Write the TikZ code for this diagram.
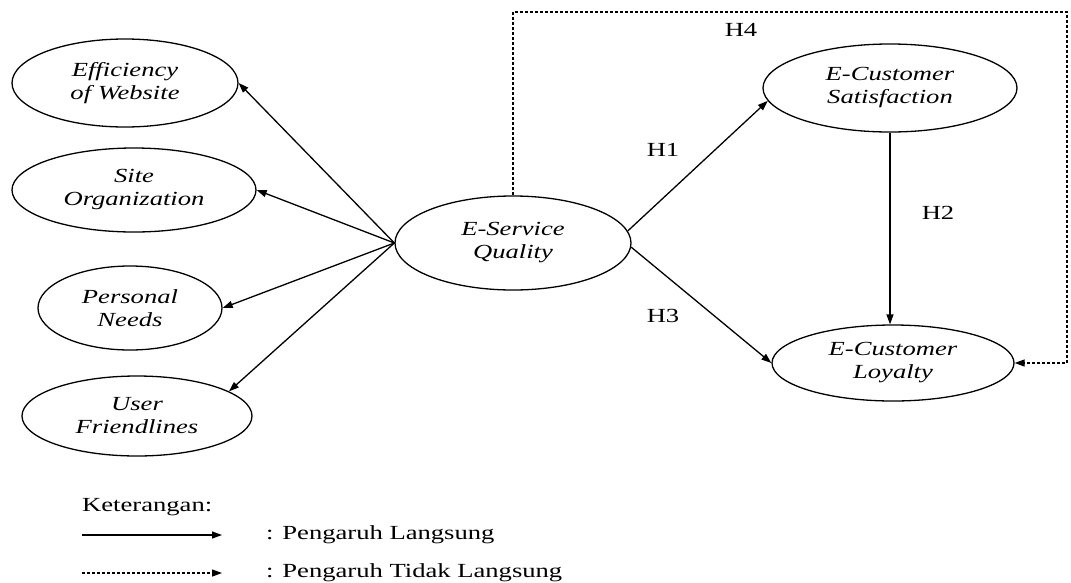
\documentclass[tikz,border=0pt]{standalone}
\usepackage{fontspec}
\setmainfont[FakeStretch=1.33]{Liberation Serif}
\usetikzlibrary{shapes.geometric,arrows.meta}
\begin{document}
\begin{tikzpicture}[x=1pt,y=-1pt,
  every node/.style={font=\fontsize{20}{23}\selectfont},
  latent/.style={draw,ellipse,line width=1.3pt,inner sep=0pt,align=center,font=\fontsize{20}{23}\selectfont\itshape},
  direct/.style={line width=1.3pt,-{Triangle[length=10pt,width=7pt]}},
  indirect/.style={line width=1.3pt,dash pattern=on 3pt off 2pt,-{Triangle[length=10pt,width=7pt]}},
  hlabel/.style={inner sep=0pt}]
\useasboundingbox (0,0) rectangle (1071,582);
\node[latent,minimum width=226pt,minimum height=88pt] (eff) at (125,83) {Efficiency\\of Website};
\node[latent,minimum width=244pt,minimum height=84pt] (site) at (134,190) {Site\\Organization};
\node[latent,minimum width=184pt,minimum height=84pt] (pers) at (130,308) {Personal\\Needs};
\node[latent,minimum width=230pt,minimum height=80pt] (user) at (137,416) {User\\Friendlines};
\node[latent,minimum width=236pt,minimum height=94pt] (esq) at (513,243) {E-Service\\Quality};
\node[latent,minimum width=254pt,minimum height=88pt] (sat) at (890,88) {E-Customer\\Satisfaction};
\node[latent,minimum width=242pt,minimum height=76pt] (loy) at (893,363) {E-Customer\\Loyalty};

\draw[direct] (esq.west) -- (eff.east);
\draw[direct] (esq.west) -- (site.east);
\draw[direct] (esq.west) -- (pers.east);
\draw[direct] (esq.west) -- (user.15);
\draw[direct] (esq.6) -- (sat.186);
\draw[direct] (esq.-2) -- (loy.west);
\draw[direct] (sat.south) -- (sat.south |- loy.north);
\coordinate (tr) at (1067,12);
\draw[indirect] (esq.north) |- (tr) |- (loy.east);

\node[hlabel] (h4) at (741,30) {H4};
\node[hlabel] (h1) at (663,150) {H1};
\node[hlabel] (h2) at (938,213) {H2};
\node[hlabel] (h3) at (663,316) {H3};

\node[hlabel,anchor=west] (ket) at (82,507) {Keterangan:};
\coordinate (s1) at (82,535); \coordinate (s2) at (222,535);
\coordinate (d1) at (82,573); \coordinate (d2) at (222,573);
\draw[direct] (s1) -- (s2);
\draw[indirect] (d1) -- (d2);
\node[hlabel,anchor=west] (l1) at (266,535) {: Pengaruh Langsung};
\node[hlabel,anchor=west] (l2) at (266,573) {: Pengaruh Tidak Langsung};
\end{tikzpicture}
\end{document}
